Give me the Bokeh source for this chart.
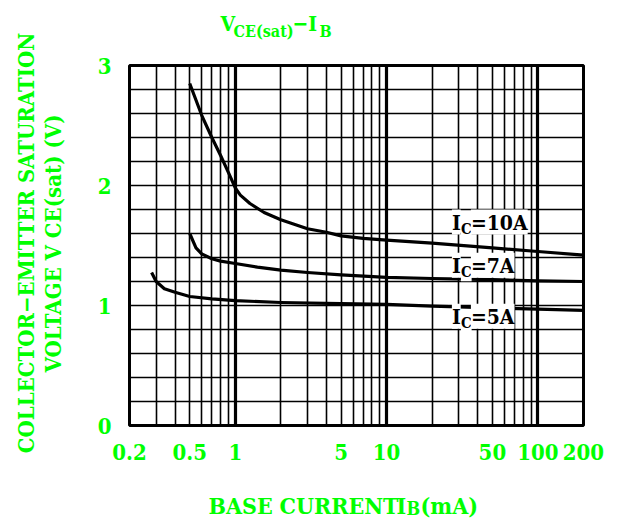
import math
from bokeh.plotting import figure
from bokeh.layouts import row, column
from bokeh.models import Range1d, FixedTicker, Label, Grid
from bokeh.embed import file_html
from bokeh.resources import INLINE

# ---- data ----
ib_10 = [0.5, 0.6, 0.7, 0.8, 0.9, 1.0, 1.08, 1.25, 1.55, 2.0, 3.0, 4.0, 5.0, 7.0, 10, 20, 50, 100, 200]
v_10 = [2.85, 2.585, 2.40, 2.25, 2.11, 1.98, 1.92, 1.85, 1.775, 1.715, 1.64, 1.61, 1.58, 1.56, 1.545, 1.52, 1.48, 1.45, 1.42]

ib_7 = [0.5, 0.55, 0.6, 0.7, 0.8, 1.0, 1.4, 2.0, 3.0, 5.0, 10, 20, 50, 100, 200]
v_7 = [1.60, 1.48, 1.43, 1.39, 1.37, 1.35, 1.32, 1.295, 1.275, 1.255, 1.235, 1.225, 1.215, 1.205, 1.20]

ib_5 = [0.28, 0.30, 0.34, 0.4, 0.5, 0.7, 1.0, 2.0, 5.0, 10, 20, 50, 100, 200]
v_5 = [1.275, 1.20, 1.14, 1.11, 1.075, 1.055, 1.04, 1.025, 1.015, 1.01, 0.995, 0.98, 0.97, 0.96]

x_tick_vals = [0.2, 0.5, 1, 5, 10, 50, 100, 200]
x_tick_labels = ["0.2", "0.5", "1", "5", "10", "50", "100", "200"]
y_tick_vals = [0, 1, 2, 3]
x_grid_vals = [0.2, 0.3, 0.4, 0.5, 0.6, 0.7, 0.8, 0.9,
               1, 2, 3, 4, 5, 6, 7, 8, 9,
               10, 20, 30, 40, 50, 60, 70, 80, 90, 100, 200]
x_decade_vals = [1, 10, 100]
y_grid_vals = [0.2 * i for i in range(16)]

GREEN = "#00ff00"
FONT = "DejaVu Serif Condensed"

BL, BR = 59, 49          # left / right borders of the chart column

# ---------------- main chart ----------------
p = figure(width=562, height=425, x_axis_type="log",
           x_range=Range1d(0.2, 200), y_range=Range1d(0, 3),
           output_backend="svg", toolbar_location=None, title=None,
           min_border_left=BL, min_border_right=BR,
           min_border_top=20, min_border_bottom=45)

p.background_fill_color = "white"
p.border_fill_color = "white"
p.outline_line_color = "black"
p.outline_line_width = 3

for ax in (p.xaxis[0], p.yaxis[0]):
    ax.axis_line_color = None
    ax.major_tick_line_color = None
    ax.minor_tick_line_color = None
    ax.major_label_text_color = GREEN
    ax.major_label_text_font = FONT
    ax.major_label_text_font_style = "bold"
    ax.major_label_text_font_size = "22px"
    ax.major_label_standoff = 12

p.xaxis.ticker = FixedTicker(ticks=x_tick_vals)
p.xaxis.major_label_overrides = {v: s for v, s in zip(x_tick_vals, x_tick_labels)}
p.yaxis.ticker = FixedTicker(ticks=y_tick_vals)

p.xgrid.ticker = FixedTicker(ticks=x_grid_vals)
p.ygrid.ticker = FixedTicker(ticks=y_grid_vals)
for g in (p.xgrid[0], p.ygrid[0]):
    g.grid_line_color = "black"
    g.grid_line_width = 1.6
    g.grid_line_alpha = 1.0
p.add_layout(Grid(dimension=0, ticker=FixedTicker(ticks=x_decade_vals),
                  grid_line_color="black", grid_line_width=3.2))

for xs, ys in ((ib_10, v_10), (ib_7, v_7), (ib_5, v_5)):
    p.line(xs, ys, line_color="black", line_width=3.2, line_join="round")

def curve_label(x, y, tail):
    kw = dict(text_font=FONT, text_font_style="bold", text_color="black",
              text_baseline="alphabetic", text_align="left",
              background_fill_color="white", padding=0)
    p.add_layout(Label(x=x, y=y, text="C", text_font_size="15px",
                       x_offset=9, y_offset=-7, **kw))
    p.add_layout(Label(x=x, y=y, text="I", text_font_size="21px", **kw))
    p.add_layout(Label(x=x, y=y, text=tail, text_font_size="21px",
                       x_offset=19, **kw))

curve_label(27, 1.695, "=10A")
curve_label(27, 1.335, "=7A")
curve_label(27, 0.91, "=5A")

# ---------------- text panels (blank figures, page-pixel ranges) ----------------
def blank(w, h, x0, x1, y0, y1, bl=0, br=0):
    f = figure(width=w, height=h, x_range=Range1d(x0, x1), y_range=Range1d(y1, y0),
               x_axis_location=None, y_axis_location=None,
               min_border_left=bl, min_border_right=br,
               min_border_top=0, min_border_bottom=0,
               output_backend="svg", toolbar_location=None, title=None)
    f.grid.visible = False
    f.outline_line_color = None
    f.background_fill_color = "white"
    f.border_fill_color = "white"
    return f

def txt(f, x, y, text, size, angle=0.0, align="left", baseline="alphabetic"):
    f.add_layout(Label(x=x, y=y, text=text, text_font=FONT, text_font_style="bold",
                       text_font_size=size, text_color=GREEN, angle=angle,
                       text_align=align, text_baseline=baseline))

# frame of the column figures spans page x 129..583
FX0, FX1 = 70 + BL, 632 - BR

# title  V_CE(sat) - I_B
ft = blank(562, 45, FX0, FX1, 0, 45, BL, BR)
txt(ft, 220, 23, "V", "21px")
txt(ft, 233, 31, "CE(sat)", "16px")
txt(ft, 292, 23, "\u2212I", "21px")
txt(ft, 319, 31, "B", "16px")

# x axis label  BASE CURRENT I_B(mA)
fx = blank(562, 48, FX0, FX1, 470, 518, BL, BR)
txt(fx, 208, 505, "BASE", "23px")
txt(fx, 279, 505, "CURRENT", "23px")
txt(fx, 396, 505, "I", "23px")
txt(fx, 406, 508, "B", "18px")
txt(fx, 420, 505, "(mA)", "23px")

# y axis label (two rotated lines)
fy = blank(70, 518, 0, 70, 0, 518)
txt(fy, 25, 239, "COLLECTOR\u2212EMITTER  SATURATION", "22px",
    angle=math.pi / 2, align="center", baseline="middle")
txt(fy, 52, 243, "VOLTAGE V CE(sat) (V)", "22px",
    angle=math.pi / 2, align="center", baseline="middle")

layout = row(fy, column(ft, p, fx))
open("out.html", "w").write(file_html(layout, INLINE))
